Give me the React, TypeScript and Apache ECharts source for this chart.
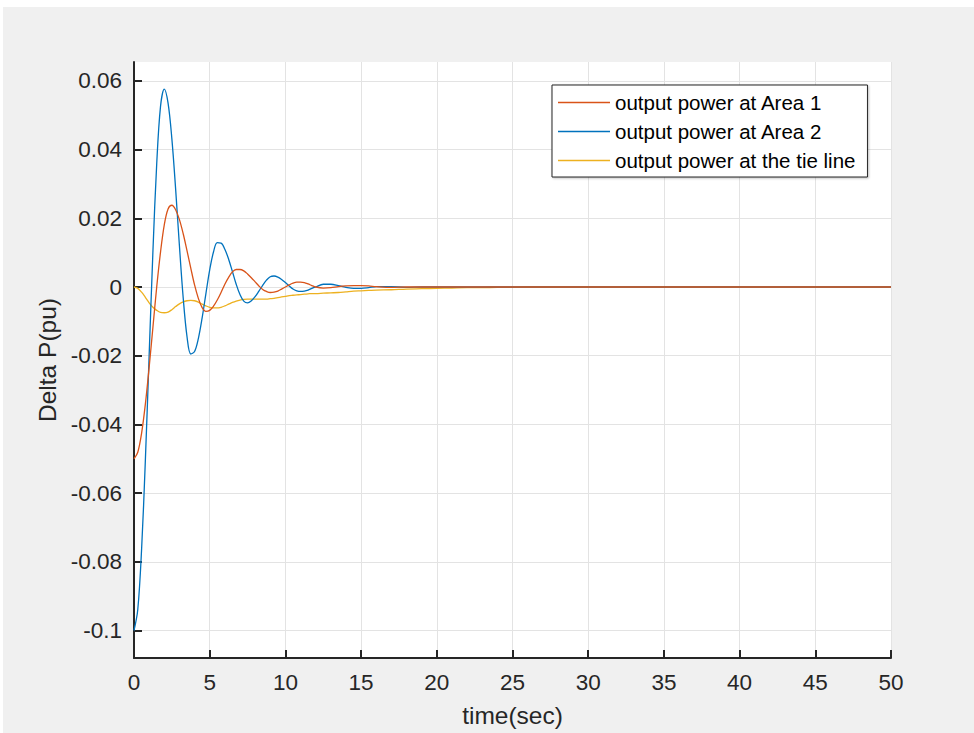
import React, { useEffect, useRef } from "react";
import * as echarts from "echarts";

// Sample times (s)
const TIME = [
  0, 0.25, 0.5, 0.75, 1, 1.25, 1.5, 1.75, 2, 2.25, 2.5, 2.75, 3, 3.25, 3.5, 3.75,
  4, 4.25, 4.5, 4.75, 5, 5.25, 5.5, 5.75, 6, 6.25, 6.5, 6.75, 7, 7.25, 7.5, 7.75,
  8, 8.25, 8.5, 8.75, 9, 9.25, 9.5, 9.75, 10, 10.25, 10.5, 10.75, 11, 11.25, 11.5, 11.75,
  12, 12.5, 13, 13.5, 14, 14.5, 15, 15.5, 16,
  17, 18, 19, 20, 21, 22, 23, 24, 25, 26, 27, 28, 29, 30,
  35, 40, 45, 50,
];

// Output power deviation, Area 1 (pu)
const AREA1 = [
  -0.05, -0.0481, -0.0426, -0.0341, -0.0234, -0.0117, 0.0, 0.0101, 0.0181, 0.0227, 0.0238, 0.0225, 0.0196, 0.0155, 0.0106, 0.0055,
  0.0006, -0.0033, -0.006, -0.0071, -0.0068, -0.0056, -0.0038, -0.0016, 0.0008, 0.0028, 0.0044, 0.0051, 0.0051, 0.0047, 0.0038, 0.0027,
  0.0015, 0.0003, -0.0007, -0.0013, -0.0016, -0.0015, -0.0012, -0.0006, 0.0, 0.0006, 0.0011, 0.0014, 0.0014, 0.0013, 0.0009, 0.0004,
  0.0, -0.0003, -0.0002, 0.0001, 0.0003, 0.0004, 0.0004, 0.0003, 0.0001,
  -0.0001, 0, 0, 0, 0, 0, 0, 0, 0, 0, 0, 0, 0, 0,
  0, 0, 0, 0,
];

// Output power deviation, Area 2 (pu)
const AREA2 = [
  -0.1, -0.0939, -0.0765, -0.0505, -0.0199, 0.0104, 0.0358, 0.0525, 0.0576, 0.0535, 0.0432, 0.0285, 0.012, -0.0032, -0.0144, -0.0195,
  -0.0188, -0.015, -0.009, -0.0019, 0.005, 0.0102, 0.0129, 0.0128, 0.011, 0.0081, 0.0045, 0.0008, -0.0022, -0.0041, -0.0046, -0.004,
  -0.0028, -0.0012, 0.0005, 0.002, 0.003, 0.0032, 0.0029, 0.0022, 0.0013, 0.0003, -0.0006, -0.0011, -0.0013, -0.0012, -0.0009, -0.0004,
  0.0, 0.0008, 0.0008, 0.0004, -0.0001, -0.0004, -0.0004, -0.0002, 0.0001,
  0.0001, -0.0001, 0, 0, 0, 0, 0, 0, 0, 0, 0, 0, 0, 0,
  0, 0, 0, 0,
];

// Tie-line power deviation (pu)
const TIE = [
  0, -0.0004, -0.0015, -0.003, -0.0046, -0.0059, -0.0068, -0.0074, -0.0075, -0.0073, -0.0066, -0.0057, -0.0049, -0.0043, -0.004, -0.0039,
  -0.004, -0.0044, -0.005, -0.0055, -0.0059, -0.0061, -0.0061, -0.0059, -0.0055, -0.005, -0.0045, -0.0041, -0.0038, -0.0036, -0.0035, -0.0035,
  -0.0035, -0.0035, -0.0035, -0.0035, -0.0034, -0.0033, -0.0031, -0.0029, -0.0027, -0.0025, -0.0024, -0.0023, -0.0022, -0.0021, -0.002, -0.0019,
  -0.0019, -0.0018, -0.0017, -0.0016, -0.0014, -0.0012, -0.0011, -0.001, -0.0009,
  -0.0008, -0.0006, -0.0005, -0.0004, -0.0003, -0.0002, -0.0002, -0.0001, -0.0001, 0, 0, 0, 0, 0,
  0, 0, 0, 0,
];

const SERIES_NAMES = [
  "output power at Area 1",
  "output power at Area 2",
  "output power at the tie line",
];
const SERIES_COLORS = ["#D95319", "#0072BD", "#EDB120"];

const Y_TICKS = [-0.1, -0.08, -0.06, -0.04, -0.02, 0, 0.02, 0.04, 0.06];
const Y_MIN = -0.108;
const Y_MAX = 0.0655;

const FONT = "'Liberation Sans', Arial, Helvetica, sans-serif";
const AXIS_COLOR = "#262626";
const GRID_COLOR = "#e3e3e3";
const TICK_FONT = 22.5;
const TITLE_FONT = 24.5;

function pairs(values: number[]) {
  return TIME.map((t, i) => [t, values[i]]);
}

export default function App() {
  const ref = useRef<HTMLDivElement>(null);

  useEffect(() => {
    if (!ref.current) return;
    const chart = echarts.init(ref.current, null, { renderer: "svg" });
    const allValues = [AREA1, AREA2, TIE];

    chart.setOption({
      animation: false,
      backgroundColor: "#ffffff",
      textStyle: { fontFamily: FONT },
      graphic: [
        {
          type: "rect",
          z: -10,
          silent: true,
          shape: { x: 3, y: 7, width: 971, height: 726 },
          style: { fill: "#f0f0f0" },
        },
      ],
      grid: {
        left: 134,
        top: 62,
        right: 83,
        bottom: 74,
        show: true,
        backgroundColor: "#ffffff",
        borderWidth: 0,
      },
      legend: {
        orient: "vertical",
        left: 552,
        top: 85,
        padding: [7, 12, 6, 6],
        itemGap: 8,
        itemWidth: 52,
        itemHeight: 1.6,
        icon: "rect",
        backgroundColor: "#ffffff",
        borderColor: AXIS_COLOR,
        borderWidth: 1,
        shadowColor: "rgba(0,0,0,0.25)",
        shadowBlur: 2,
        shadowOffsetX: 1,
        shadowOffsetY: 1,
        textStyle: {
          fontFamily: FONT,
          fontSize: 20.5,
          lineHeight: 20,
          color: "#000000",
        },
        data: SERIES_NAMES,
      },
      xAxis: {
        type: "value",
        min: 0,
        max: 50,
        interval: 5,
        name: "time(sec)",
        nameLocation: "middle",
        nameGap: 45,
        nameTextStyle: { fontFamily: FONT, fontSize: TITLE_FONT, color: AXIS_COLOR },
        axisLine: { onZero: false, lineStyle: { color: AXIS_COLOR, width: 2 } },
        axisTick: { inside: true, length: 8, lineStyle: { color: AXIS_COLOR, width: 2 } },
        axisLabel: { margin: 13, fontFamily: FONT, fontSize: TICK_FONT, color: AXIS_COLOR },
        splitLine: { show: true, lineStyle: { color: GRID_COLOR, width: 1 } },
      },
      yAxis: {
        type: "value",
        min: Y_MIN,
        max: Y_MAX,
        name: "Delta P(pu)",
        nameLocation: "middle",
        nameGap: 71,
        nameTextStyle: { fontFamily: FONT, fontSize: TITLE_FONT, color: AXIS_COLOR },
        axisLine: { show: true, lineStyle: { color: AXIS_COLOR, width: 2 } },
        axisTick: {
          show: true,
          inside: true,
          length: 8,
          customValues: Y_TICKS,
          lineStyle: { color: AXIS_COLOR, width: 2 },
        },
        axisLabel: {
          margin: 12,
          fontFamily: FONT,
          fontSize: TICK_FONT,
          color: AXIS_COLOR,
          customValues: Y_TICKS,
          formatter: (v: number) => String(+Number(v).toFixed(2)),
        },
        splitLine: { show: true, lineStyle: { color: GRID_COLOR, width: 1 } },
      },
      series: SERIES_NAMES.map((name, i) => ({
        name,
        type: "line",
        data: pairs(allValues[i]),
        symbol: "none",
        smooth: 0.35,
        z: 3 - i,
        lineStyle: { color: SERIES_COLORS[i], width: 1.3 },
        itemStyle: { color: SERIES_COLORS[i] },
      })),
    });

    return () => chart.dispose();
  }, []);

  return (
    <div
      ref={ref}
      style={{ position: "absolute", left: 0, top: 0, width: 974, height: 733 }}
    />
  );
}
